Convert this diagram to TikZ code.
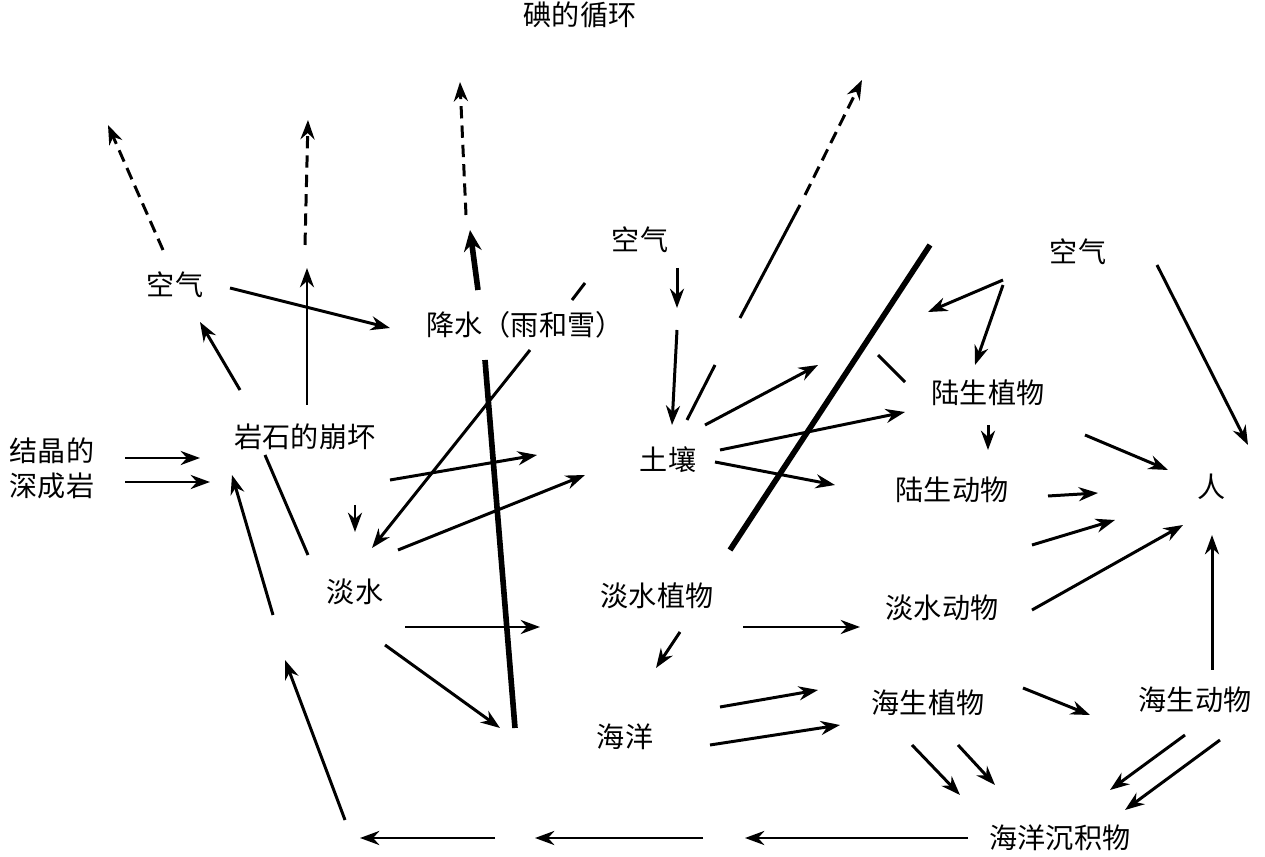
\documentclass[tikz,border=0pt]{standalone}
\usepackage{fontspec}
\setmainfont{Noto Sans CJK SC}
\usetikzlibrary{arrows.meta}
\begin{document}
\begin{tikzpicture}[x=0.02cm,y=-0.02cm,
  lbl/.style={font=\fontsize{16}{20}\selectfont,inner sep=1pt,align=center},
  ar/.style={line width=1.7pt,-{Stealth[length=11pt,width=8pt]}},
  ln/.style={line width=1.7pt},
  thick line/.style={line width=3.2pt},
  dar/.style={ar,dash pattern=on 7pt off 4pt}]
\useasboundingbox (0,0) rectangle (1265,857);
\node[lbl] (title) at (580,15) {碘的循环};
\node[lbl] (air1) at (175,285) {空气};
\node[lbl] (rain) at (525,325) {降水（雨和雪）};
\node[lbl] (air2) at (640,240) {空气};
\node[lbl] (air3) at (1078,252) {空气};
\node[lbl] (cryst) at (52,468) {结晶的\\深成岩};
\node[lbl] (rock) at (305,437) {岩石的崩坏};
\node[lbl] (soil) at (668,460) {土壤};
\node[lbl] (lplant) at (988,393) {陆生植物};
\node[lbl] (lanim) at (952,490) {陆生动物};
\node[lbl] (man) at (1212,487) {人};
\node[lbl] (fw) at (355,592) {淡水};
\node[lbl] (fwplant) at (657,596) {淡水植物};
\node[lbl] (fwanim) at (942,608) {淡水动物};
\node[lbl] (ocean) at (625,737) {海洋};
\node[lbl] (mplant) at (928,703) {海生植物};
\node[lbl] (manim) at (1195,700) {海生动物};
\node[lbl] (sed) at (1060,838) {海洋沉积物};
\draw[dar] (163,250) -- (108,125);
\draw[dar] (305,245) -- (308,120);
\draw[dar] (466,215) -- (460,82);
\draw[ln] (740,318) -- (800,205);
\draw[dar] (805,195) -- (862,80);
\draw[ar] (307,405) -- (307,268);
\draw[line width=3.2pt,-{Stealth[length=12pt,width=10pt]}] (478,290) -- (470,230);
\draw[ar] (240,390) -- (200,322);
\draw[ar] (230,288) -- (390,328);
\draw[ln] (585,283) -- (572,300);
\draw[ar] (530,350) -- (372,548);
\draw[ar] (677,268) -- (677,308);
\draw[ar] (677,330) -- (672,425);
\draw[ln] (687,420) -- (715,365);
\draw[thick line] (485,360) -- (515,728);
\draw[thick line] (930,245) -- (730,550);
\draw[ar] (705,425) -- (818,365);
\draw[ar] (720,450) -- (905,412);
\draw[ar] (715,462) -- (835,485);
\draw[ln] (878,355) -- (905,382);
\draw[ar] (1003,280) -- (928,312);
\draw[ar] (1003,285) -- (975,365);
\draw[ar] (1157,265) -- (1248,445);
\draw[ar] (988,425) -- (988,450);
\draw[ar] (1085,435) -- (1168,470);
\draw[ar] (1048,496) -- (1098,493);
\draw[ar] (1032,545) -- (1115,520);
\draw[ar] (1032,610) -- (1183,525);
\draw[ar] (1212,670) -- (1212,535);
\draw[ar] (125,458) -- (200,458);
\draw[ar] (125,482) -- (210,482);
\draw[ln] (265,455) -- (308,555);
\draw[ar] (390,480) -- (537,455);
\draw[ar] (398,550) -- (585,475);
\draw[ar] (355,505) -- (355,532);
\draw[ar] (405,627) -- (540,627);
\draw[ar] (385,645) -- (500,728);
\draw[ar] (680,632) -- (656,668);
\draw[ar] (743,627) -- (860,627);
\draw[ar] (720,707) -- (818,690);
\draw[ar] (710,745) -- (840,725);
\draw[ar] (1023,688) -- (1090,715);
\draw[ar] (912,745) -- (960,795);
\draw[ar] (958,745) -- (995,785);
\draw[ar] (1185,735) -- (1110,790);
\draw[ar] (1220,740) -- (1125,810);
\draw[ar] (968,838) -- (745,838);
\draw[ar] (703,838) -- (535,838);
\draw[ar] (495,838) -- (360,838);
\draw[ar] (345,820) -- (285,660);
\draw[ar] (273,615) -- (232,475);
\end{tikzpicture}
\end{document}
